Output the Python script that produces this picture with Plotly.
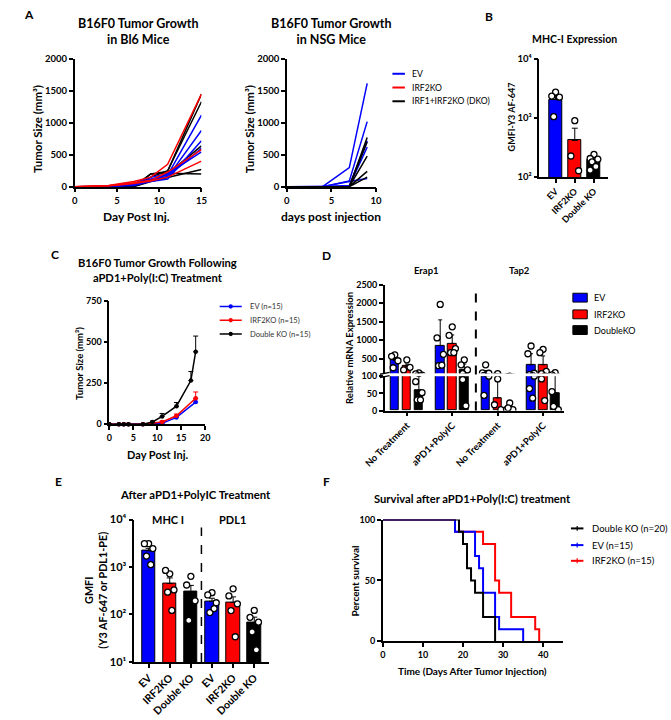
import plotly.graph_objects as go

W, H = 671, 720
FONT = "Lato"
BLUE = "#0000ff"
RED = "#ff0000"
BLACK = "#000000"

# ---------------- DATA ----------------
# A (left): B16F0 growth in Bl6 mice, individual mice
bl6_days = [0, 4, 7, 9, 11, 15]
bl6_dko = [[0, 0, 0, 200, 240, 1450], [0, 0, 10, 150, 250, 1330], [0, 0, 0, 100, 200, 640],
           [0, 0, 0, 80, 140, 270], [0, 0, 0, 200, 210, 200]]
bl6_ev = [[0, 0, 30, 120, 180, 1120], [0, 0, 40, 100, 150, 880], [0, 0, 20, 80, 120, 720],
          [0, 0, 50, 150, 200, 545], [0, 5, 30, 110, 160, 600]]
bl6_irf2ko = [[0, 20, 80, 150, 350, 1450], [0, 15, 60, 100, 230, 580], [0, 10, 50, 90, 150, 400]]

# A (right): growth in NSG mice
nsg_days = [0, 4, 7, 9]
nsg_ev = [[0, 0, 300, 1620], [0, 0, 90, 1020], [0, 0, 20, 720], [0, 0, 10, 620], [0, 0, 80, 130]]
nsg_dko = [[0, 0, 0, 770], [0, 0, 0, 700], [0, 0, 0, 480], [0, 0, 0, 240], [0, 0, 0, 150]]
legend_a = ["EV", "IRF2KO", "IRF1+IRF2KO (DKO)"]

# B: MHC-I expression
b_groups = ["EV", "IRF2KO", "Double KO"]
b_mean = [2050, 415, 190]
b_err = [350, 255, 20]
b_pts = [[2750, 2350, 2250, 1050], [900, 226, 127], [240, 205, 200, 180, 150, 130]]

# C: growth following aPD1+Poly(I:C)
c_days_dko = [0, 2, 3, 4, 7, 9, 11, 14, 17, 18]
c_dko = [0, 0, 0, 0, 0, 14, 48, 110, 265, 440]
c_dko_err = [0, 0, 0, 0, 0, 6, 18, 22, 55, 95]
c_days = [0, 2, 3, 4, 7, 9, 11, 14, 18]
c_ev = [0, 0, 0, 0, 0, 3, 6, 42, 135]
c_ev_err = [0, 0, 0, 0, 0, 2, 4, 8, 20]
c_irf2 = [0, 0, 0, 0, 0, 8, 14, 52, 158]
c_irf2_err = [0, 0, 0, 0, 0, 4, 6, 10, 38]
c_names = ["EV (n=15)", "IRF2KO (n=15)", "Double KO (n=15)"]

# D: relative mRNA expression (Erap1 NT, Erap1 aPD1, Tap2 NT, Tap2 aPD1)
d_ticks = ["No Treatment", "aPD1+PolyIC", "No Treatment", "aPD1+PolyIC"]
d_genes = ["Erap1", "Tap2"]
d_names = ["EV", "IRF2KO", "DoubleKO"]
d_ev_mean = [450, 850, 100, 330]
d_irf2_mean = [290, 910, 37, 330]
d_dko_mean = [58, 200, 9, 52]
d_ev_err = [70, 700, 75, 300]
d_irf2_err = [60, 230, 55, 240]
d_dko_err = [48, 150, 8, 65]
d_ev_pts = [[600, 560, 440, 250], [1970, 1060, 615, 305, 320], [330, 110, 100, 44], [840, 630, 100, 64, 36]]
d_irf2_pts = [[465, 190, 260], [1360, 1130, 770, 660, 660], [92, 17, 3], [750, 660, 150, 92, 29]]
d_dko_pts = [[108, 84, 52, 31, 31], [465, 330, 190, 90, 14], [22, 3, 3, 8], [118, 55, 3, 12]]

# E: after aPD1+PolyIC (MHC I then PDL1)
e_groups = ["EV", "IRF2KO", "Double KO", "EV", "IRF2KO", "Double KO"]
e_mean = [2200, 450, 300, 190, 180, 68]
e_err = [280, 140, 110, 30, 55, 20]
e_pts = [[3100, 3100, 2450, 1700, 1120], [720, 850, 330, 295, 122], [637, 418, 194, 75],
         [288, 258, 177, 110, 133], [348, 246, 168, 121, 34], [122, 87, 69, 43, 18]]

# F: survival
f_dko_t = [0, 19, 20, 21, 22, 23, 25, 28]
f_dko_s = [100, 90, 80, 60, 50, 40, 20, 0]
f_ev_t = [0, 18, 23, 24, 25, 28, 29, 35]
f_ev_s = [100, 90, 70, 60, 40, 20, 10, 0]
f_irf2_t = [0, 18, 25, 28, 29, 32, 38, 39]
f_irf2_s = [100, 90, 80, 50, 40, 20, 10, 0]
f_names = ["Double KO (n=20)", "EV (n=15)", "IRF2KO (n=15)"]

# ---------------- HELPERS ----------------
def dom_x(a, b):
    return [a / W, b / W]


def dom_y(top, bottom):
    return [1 - bottom / H, 1 - top / H]


def jit(n, s):
    pat = [0, -1, 1, -0.5, 0.5, -1, 1]
    return [pat[i % len(pat)] * s for i in range(n)]


PT = dict(size=6, color="white", line=dict(color="black", width=1.3))

fig = go.Figure()

# ---------------- A ----------------
for grp, col in ((bl6_dko, BLACK), (bl6_ev, BLUE), (bl6_irf2ko, RED)):
    for ys in grp:
        fig.add_trace(go.Scatter(x=bl6_days, y=ys, mode="lines", line=dict(color=col, width=1.5),
                                 xaxis="x", yaxis="y", showlegend=False, cliponaxis=False))
for grp, col in ((nsg_ev, BLUE), (nsg_dko, BLACK)):
    for ys in grp:
        fig.add_trace(go.Scatter(x=nsg_days, y=ys, mode="lines", line=dict(color=col, width=1.5),
                                 xaxis="x2", yaxis="y2", showlegend=False, cliponaxis=False))

# ---------------- B ----------------
fig.add_trace(go.Bar(x=list(range(3)), y=b_mean, width=0.65,
                     marker=dict(color=[BLUE, RED, BLACK], line=dict(color="black", width=1)),
                     error_y=dict(type="data", array=b_err, arrayminus=[0] * 3, symmetric=False,
                                  color="black", thickness=1, width=3),
                     xaxis="x3", yaxis="y3", showlegend=False))
for g, pts in enumerate(b_pts):
    fig.add_trace(go.Scatter(x=[g + o for o in jit(len(pts), 0.2)], y=pts, mode="markers", marker=PT,
                             xaxis="x3", yaxis="y3", showlegend=False, cliponaxis=False))

# ---------------- C ----------------
for xs, ys, err, col in ((c_days, c_ev, c_ev_err, BLUE),
                         (c_days, c_irf2, c_irf2_err, RED),
                         (c_days_dko, c_dko, c_dko_err, BLACK)):
    fig.add_trace(go.Scatter(x=xs, y=ys, mode="lines+markers",
                             line=dict(color=col, width=1.5), marker=dict(color=col, size=4.5),
                             error_y=dict(type="data", array=err, arrayminus=[0] * len(err), symmetric=False,
                                          color=col, thickness=1, width=2.5),
                             xaxis="x4", yaxis="y4", showlegend=False, cliponaxis=False))

# ---------------- D (broken axis: y5 lower, y6 upper) ----------------
d_series = ((d_ev_mean, d_ev_err, d_ev_pts, BLUE, -0.265),
            (d_irf2_mean, d_irf2_err, d_irf2_pts, RED, 0.0),
            (d_dko_mean, d_dko_err, d_dko_pts, BLACK, 0.265))
for mean, err, pts, col, off in d_series:
    xs = [i + off for i in range(4)]
    for ya in ("y5", "y6"):
        fig.add_trace(go.Bar(x=xs, y=mean, width=0.19,
                             marker=dict(color=col, line=dict(color="black", width=1)),
                             error_y=dict(type="data", array=err, arrayminus=[0] * 4, symmetric=False,
                                          color="black", thickness=1, width=2),
                             xaxis="x5", yaxis=ya, showlegend=False))
    for i, p in enumerate(pts):
        px_ = [xs[i] + o for o in jit(len(p), 0.07)]
        for ya in ("y5", "y6"):
            fig.add_trace(go.Scatter(x=px_, y=p, mode="markers", marker=PT, xaxis="x5", yaxis=ya,
                                     showlegend=False, cliponaxis=True))

# ---------------- E ----------------
e_cols = [BLUE, RED, BLACK, BLUE, RED, BLACK]
fig.add_trace(go.Bar(x=list(range(6)), y=e_mean, width=0.64,
                     marker=dict(color=e_cols, line=dict(color="black", width=1)),
                     error_y=dict(type="data", array=e_err, arrayminus=[0] * 6, symmetric=False,
                                  color="black", thickness=1, width=3),
                     xaxis="x6", yaxis="y7", showlegend=False))
for g, pts in enumerate(e_pts):
    fig.add_trace(go.Scatter(x=[g + o for o in jit(len(pts), 0.2)], y=pts, mode="markers", marker=PT,
                             xaxis="x6", yaxis="y7", showlegend=False, cliponaxis=False))

# ---------------- F ----------------
for ts, ss, col in ((f_irf2_t, f_irf2_s, RED), (f_ev_t, f_ev_s, BLUE), (f_dko_t, f_dko_s, BLACK)):
    fig.add_trace(go.Scatter(x=ts, y=ss, mode="lines", line=dict(color=col, width=2, shape="hv"),
                             xaxis="x7", yaxis="y8", showlegend=False, cliponaxis=False))


# ---------------- AXES ----------------
def ax(size=9, **kw):
    d = dict(showline=True, linecolor="black", linewidth=1.5, ticks="outside", ticklen=4,
             tickwidth=1.5, tickcolor="black", showgrid=False, zeroline=False,
             tickfont=dict(family=FONT, size=size, color="black", weight="bold"), fixedrange=True)
    d.update(kw)
    return d


SUP = {1: "10¹", 2: "10²", 3: "10³", 4: "10⁴"}

fig.update_layout(
    xaxis=ax(9.5, domain=dom_x(56, 188), range=[0, 15], tickvals=[0, 5, 10, 15], anchor="y"),
    yaxis=ax(9.5, domain=dom_y(53, 183), range=[0, 2000], tickvals=[0, 500, 1000, 1500, 2000], anchor="x"),
    xaxis2=ax(9.5, domain=dom_x(277, 370), range=[0, 10], tickvals=[0, 5, 10], anchor="y2"),
    yaxis2=ax(9.5, domain=dom_y(53, 183), range=[0, 2000], tickvals=[0, 500, 1000, 1500, 2000], anchor="x2"),
    xaxis3=ax(9, domain=dom_x(540, 612), range=[-0.85, 2.75], tickvals=[0, 1, 2], ticktext=b_groups,
              tickangle=-45, anchor="y3"),
    yaxis3=ax(9.5, domain=dom_y(53, 173), type="log", range=[2, 4], tickvals=[100, 1000, 10000],
              ticktext=[SUP[2], SUP[3], SUP[4]], anchor="x3"),
    xaxis4=ax(9, domain=dom_x(92, 192), range=[0, 20], tickvals=[0, 5, 10, 15, 20], anchor="y4"),
    yaxis4=ax(9, domain=dom_y(299, 425), range=[0, 750], tickvals=[0, 250, 500, 750], anchor="x4"),
    xaxis5=ax(9.5, domain=dom_x(379, 566), range=[-0.486, 3.465], tickvals=[0, 1, 2, 3], ticktext=d_ticks,
              tickangle=-45, anchor="y5"),
    yaxis5=ax(9, domain=dom_y(376, 411), range=[0, 100], tickvals=[0, 50, 100], anchor="x5"),
    yaxis6=ax(9, domain=dom_y(283, 373), range=[100, 2500], tickvals=[500, 1000, 1500, 2000, 2500],
              anchor="x5"),
    xaxis6=ax(10.5, domain=dom_x(118, 258), range=[-0.68, 5.68], tickvals=list(range(6)), ticktext=e_groups,
              tickangle=-45, anchor="y7"),
    yaxis7=ax(11, domain=dom_y(522, 667), type="log", range=[1, 4], tickvals=[10, 100, 1000, 10000],
              ticktext=[SUP[1], SUP[2], SUP[3], SUP[4]], anchor="x6"),
    xaxis7=ax(9, domain=dom_x(377, 565), range=[0, 45], tickvals=[0, 10, 20, 30, 40], anchor="y8"),
    yaxis8=ax(9, domain=dom_y(522, 646), range=[0, 100], tickvals=[0, 50, 100], anchor="x7"),
)


# ---------------- TEXT ----------------
def ann(text, x, y, size, bold=True, angle=0, xanchor="center", yanchor="middle", color="black"):
    return dict(text=text, x=x / W, y=1 - y / H, xref="paper", yref="paper", showarrow=False,
                font=dict(family=FONT, size=size, color=color, weight="bold" if bold else "normal"),
                textangle=angle, xanchor=xanchor, yanchor=yanchor)


annotations = [
    ann("A", 8, 8, 12), ann("B", 488, 10, 12), ann("C", 35, 252, 12),
    ann("D", 318, 253, 12), ann("E", 39, 483, 12), ann("F", 318, 483, 12),
    ann("B16F0 Tumor Growth<br>in Bl6 Mice", 122, 25, 12.5),
    ann("B16F0 Tumor Growth<br>in NSG Mice", 323, 25, 12.5),
    ann("MHC-I Expression", 577, 33, 10.5),
    ann("B16F0 Tumor Growth Following<br>aPD1+Poly(I:C) Treatment", 142, 268, 11.2),
    ann(d_genes[0], 423, 268, 9.5), ann(d_genes[1], 519, 268, 9.5),
    ann("After aPD1+PolyIC Treatment", 182, 496, 11.3),
    ann("MHC I", 153, 522, 11), ann("PDL1", 220, 522, 11),
    ann("Survival after aPD1+Poly(I:C) treatment", 470, 501, 11.2),
    # axis titles
    ann("Tumor Size (mm³)", 17, 124, 11.5, angle=-90),
    ann("Day Post Inj.", 120, 213, 12),
    ann("Tumor Size (mm³)", 238, 124, 11.5, angle=-90),
    ann("days post injection", 323, 213, 12),
    ann("GMFI-Y3 AF-647", 512, 112, 9, angle=-90),
    ann("Tumor Size (mm³)", 61, 363, 9.5, angle=-90),
    ann("Day Post Inj.", 142, 456, 11),
    ann("Relative mRNA Expression", 343, 347, 9.5, angle=-90),
    ann("GMFI<br>(Y3 AF-647 or PDL1-PE)", 77.5, 594, 10.8, angle=-90),
    ann("Percent survival", 348, 584, 10, angle=-90),
    ann("Time (Days After Tumor Injection)", 470, 676, 10),
]

shapes = [
    dict(type="line", xref="x5", yref="paper", x0=1.52, x1=1.52, y0=1 - 411 / H, y1=1 - 286 / H,
         line=dict(color="black", width=2, dash="dash")),
    dict(type="line", xref="x6", yref="paper", x0=2.5, x1=2.5, y0=1 - 667 / H, y1=1 - 530 / H,
         line=dict(color="black", width=1.5, dash="dash")),
    # axis break marks on D
    dict(type="line", xref="paper", yref="paper", x0=374 / W, x1=384 / W, y0=1 - 374 / H, y1=1 - 372 / H,
         line=dict(color="black", width=1.3)),
    dict(type="line", xref="paper", yref="paper", x0=374 / W, x1=384 / W, y0=1 - 377.5 / H, y1=1 - 375.5 / H,
         line=dict(color="black", width=1.3)),
]


# ---------------- LEGENDS (keys + labels) ----------------
def pline(x0, x1, y, col, w=2):
    return dict(type="line", xref="paper", yref="paper", x0=x0 / W, x1=x1 / W, y0=1 - y / H, y1=1 - y / H,
                line=dict(color=col, width=w))


# A legend
for lab, col, y in zip(legend_a, (BLUE, RED, BLACK), (68, 82, 96)):
    shapes.append(pline(387, 400, y, col))
    annotations.append(ann(lab, 405, y, 8.6, bold=False, xanchor="left"))
# C legend
for lab, col, y in zip(c_names, (BLUE, RED, BLACK), (305, 319, 333)):
    shapes.append(pline(207, 230, y, col, 1.5))
    shapes.append(dict(type="circle", xref="paper", yref="paper", x0=216.3 / W, x1=220.7 / W,
                       y0=1 - (y + 2.2) / H, y1=1 - (y - 2.2) / H, fillcolor=col, line=dict(color=col, width=0)))
    annotations.append(ann(lab, 237, y, 7.6, bold=False, xanchor="left", color="#333333"))
# D legend
for lab, col, y in zip(d_names, (BLUE, RED, BLACK), (296, 313, 329)):
    shapes.append(dict(type="rect", xref="paper", yref="paper", x0=575 / W, x1=590 / W,
                       y0=1 - (y + 4.5) / H, y1=1 - (y - 4.5) / H, fillcolor=col,
                       line=dict(color="black", width=1)))
    annotations.append(ann(lab, 595, y, 9, bold=False, xanchor="left"))
# F legend
for lab, col, y in zip(f_names, (BLACK, BLUE, RED), (531, 548, 564)):
    shapes.append(pline(573, 586, y, col))
    shapes.append(dict(type="line", xref="paper", yref="paper", x0=579.5 / W, x1=579.5 / W,
                       y0=1 - (y + 2.5) / H, y1=1 - (y - 2.5) / H, line=dict(color=col, width=1.2)))
    annotations.append(ann(lab, 593, y, 9.5, bold=False, xanchor="left"))

fig.update_layout(
    width=W, height=H, margin=dict(l=0, r=0, t=0, b=0),
    paper_bgcolor="white", plot_bgcolor="rgba(0,0,0,0)",
    font=dict(family=FONT, color="black"), showlegend=False,
    annotations=annotations, shapes=shapes, bargap=0,
)

fig.write_html("out.html")
